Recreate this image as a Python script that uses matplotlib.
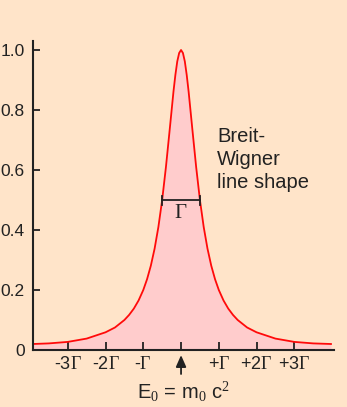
import matplotlib
matplotlib.use("Agg")
import matplotlib.pyplot as plt

plt.rcParams['font.family'] = ['Liberation Sans', 'DejaVu Sans']
plt.rcParams['mathtext.fontset'] = 'custom'
plt.rcParams['mathtext.rm'] = 'Liberation Serif'
plt.rcParams['mathtext.it'] = 'Liberation Serif:italic'
plt.rcParams['mathtext.sf'] = 'Liberation Sans'

# energy offset in units of Gamma, relative intensity
x_vals = [-3.92, -3.5, -3.0, -2.5, -2.0, -1.75, -1.5, -1.375, -1.25, -1.125, -1.0, -0.9, -0.8, -0.7,
          -0.6, -0.5, -0.4, -0.3, -0.2, -0.15, -0.1, -0.05, 0.0,
          0.05, 0.1, 0.15, 0.2, 0.3, 0.4, 0.5, 0.6, 0.7, 0.8, 0.9, 1.0,
          1.125, 1.25, 1.375, 1.5, 1.75, 2.0, 2.5, 3.0, 3.5, 3.97]
y_vals = [0.020, 0.022, 0.027, 0.038, 0.059, 0.075, 0.100, 0.117, 0.138, 0.165, 0.200, 0.236, 0.281, 0.338,
          0.410, 0.500, 0.610, 0.735, 0.862, 0.917, 0.962, 0.990, 1.000,
          0.990, 0.962, 0.917, 0.862, 0.735, 0.610, 0.500, 0.410, 0.338, 0.281, 0.236, 0.200,
          0.165, 0.138, 0.117, 0.100, 0.075, 0.059, 0.038, 0.027, 0.022, 0.020]

x_ticks = [-3, -2, -1, 0, 1, 2, 3]
x_labels = [r'-3$\Gamma$', r'-2$\Gamma$', r'-$\Gamma$', '', r'+$\Gamma$', r'+2$\Gamma$', r'+3$\Gamma$']
y_ticks = [0, 0.2, 0.4, 0.6, 0.8, 1.0]
y_labels = ['0', '0.2', '0.4', '0.6', '0.8', '1.0']

bg = '#FFE4C9'
fill_col = '#FFCCCC'
line_col = '#FF0A0A'
ink = '#222222'

fig = plt.figure(figsize=(3.47, 4.07), dpi=100, facecolor=bg)
ax = fig.add_axes([33/347, 57/407, (334-33)/347, (350-41)/407])
ax.set_facecolor(bg)

ax.fill_between(x_vals, 0, y_vals, color=fill_col, lw=0)
ax.plot(x_vals, y_vals, color=line_col, lw=1.3)

ax.set_xlim(-3.92, 4.05)
ax.set_ylim(0, 1.03)

for s in ['top', 'right']:
    ax.spines[s].set_visible(False)
for s in ['left', 'bottom']:
    ax.spines[s].set_color(ink)
    ax.spines[s].set_linewidth(1.5)

ax.set_xticks(x_ticks)
ax.set_xticklabels(x_labels)
ax.set_yticks(y_ticks)
ax.set_yticklabels(y_labels)
ax.tick_params(axis='x', direction='in', length=6, width=1.3, color=ink, labelsize=13, labelcolor=ink, pad=4)
ax.tick_params(axis='y', direction='in', length=5, width=1.3, color=ink, labelsize=12.5, labelcolor=ink, pad=6)

# FWHM bar
ax.plot([-0.5, 0.5], [0.5, 0.5], color=ink, lw=1.3)
ax.plot([-0.5, -0.5], [0.485, 0.515], color=ink, lw=1.3)
ax.plot([0.5, 0.5], [0.485, 0.515], color=ink, lw=1.3)
ax.text(0, 0.49, r'$\Gamma$', ha='center', va='top', fontsize=15, color=ink)

ax.text(0.95, 0.745, 'Breit-\nWigner\nline shape', ha='left', va='top', fontsize=14.5,
        color=ink, linespacing=1.3)

# arrow and E0 label
ax.annotate('', xy=(0, -0.017), xytext=(0, -0.08), xycoords='data', textcoords='data',
            arrowprops=dict(arrowstyle='-|>,head_length=0.5,head_width=0.22', color=ink, lw=1.3,
                            mutation_scale=14, shrinkA=0, shrinkB=0),
            annotation_clip=False)
fig.text(137/347, 1 - 399/407, r'E$_0$ = m$_0$ c$^2$', ha='left', va='baseline', fontsize=14.5,
         color=ink)

fig.savefig('out.png', dpi=100, facecolor=bg)
